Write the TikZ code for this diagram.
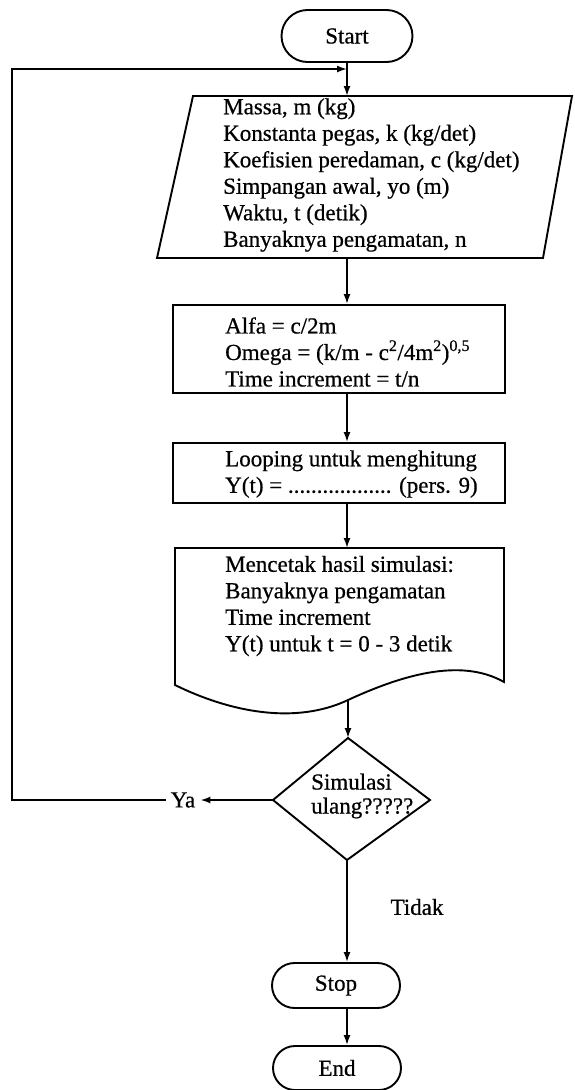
\documentclass[tikz,border=0pt]{standalone}
\usepackage{fontspec}
\setmainfont{Liberation Serif}[FakeBold=0.6]
\usetikzlibrary{arrows.meta,shapes.misc}
\begin{document}
\begin{tikzpicture}[x=1pt,y=-1pt,
  shp/.style={draw=black,line width=1.9pt,line join=miter},
  term/.style={shp,rounded rectangle,minimum width=131pt,minimum height=52pt,inner sep=0pt,font=\fontsize{23}{26}\selectfont},
  pbox/.style={shp,rectangle,inner sep=0pt},
  txt/.style={align=left,anchor=west,inner sep=0pt,font=\fontsize{23}{26.5}\selectfont},
  lbl/.style={inner sep=0pt,font=\fontsize{23}{26}\selectfont},
  conn/.style={line width=1.7pt},
  arr/.style={conn,-{Latex[length=10pt,width=7pt]}},
]
\useasboundingbox (0,0) rectangle (574,1090);
% terminal
\node[term] (start) at (347,36) {Start};
\coordinate (J) at (347,69);
% input parallelogram
\coordinate (inTL) at (193,96);
\coordinate (inTR) at (572,96);
\coordinate (inBR) at (543,258);
\coordinate (inBL) at (157,258);
\coordinate (inN) at (347,96);
\coordinate (inS) at (347,258);
\draw[shp] (inTL) -- (inTR) -- (inBR) -- (inBL) -- cycle;
\node[txt] (inT) at (223,175) {Massa, m (kg)\\Konstanta pegas, k (kg/det)\\Koefisien peredaman, c (kg/det)\\Simpangan awal, yo (m)\\Waktu, t (detik)\\Banyaknya pengamatan, n};
% process boxes
\node[pbox,minimum width=332pt,minimum height=88pt] (calc) at (339,349) {};
\node[txt] (calcT) at (225,352) {Alfa = c/2m\\Omega = (k/m - c\textsuperscript{2}/4m\textsuperscript{2})\textsuperscript{0,5}\\Time increment = t/n};
\node[pbox,minimum width=332pt,minimum height=60pt] (loop) at (339,473) {};
\node[txt] (loopT) at (225,474) {Looping untuk menghitung\\Y(t) = .................. (pers. 9)};
% document shape
\coordinate (dTL) at (175,548);
\coordinate (dTR) at (504,548);
\coordinate (dBR) at (504,682);
\coordinate (dBL) at (175,685);
\coordinate (dM) at (348,700);
\coordinate (dN) at (347,548);
\draw[shp] (dBL) -- (dTL) -- (dTR) -- (dBR) .. controls (460,657) and (400,676) .. (dM) .. controls (295,725) and (230,712) .. (dBL) -- cycle;
\node[txt] (docT) at (225,606) {Mencetak hasil simulasi:\\Banyaknya pengamatan\\Time increment\\Y(t) untuk t = 0 - 3 detik};
% decision
\coordinate (qT) at (348,738);
\coordinate (qR) at (430,800);
\coordinate (qB) at (347,860);
\coordinate (qL) at (273,800);
\draw[shp] (qT) -- (qR) -- (qB) -- (qL) -- cycle;
\node[txt,font=\fontsize{23}{24}\selectfont] (qText) at (311,796) {Simulasi\\ulang?????};
\node[lbl,inner xsep=5pt] (ya) at (183,800) {Ya};
\node[lbl] (tidak) at (417,907) {Tidak};
\coordinate (LB) at (12,800);
\coordinate (LT) at (12,69);
% end terminals
\node[term,minimum width=128pt,minimum height=45pt] (stop) at (336,985.5) {Stop};
\node[term,minimum width=128pt,minimum height=44pt] (end) at (337,1068) {End};
% connectors
\draw[arr] (start.south -| J) -- (inN);
\draw[arr] (inS) -- (inS |- calc.north);
\draw[arr] (inS |- calc.south) -- (inS |- loop.north);
\draw[arr] (inS |- loop.south) -- (dN);
\draw[arr] (dM) -- (qT);
\draw[arr] (qB) -- (qB |- stop.north);
\draw[arr] (qB |- stop.south) -- (qB |- end.north);
\draw[arr] (qL) -- (ya.east);
\draw[arr] (ya.west) -- (LB) -- (LT) -- (J);
\end{tikzpicture}
\end{document}
